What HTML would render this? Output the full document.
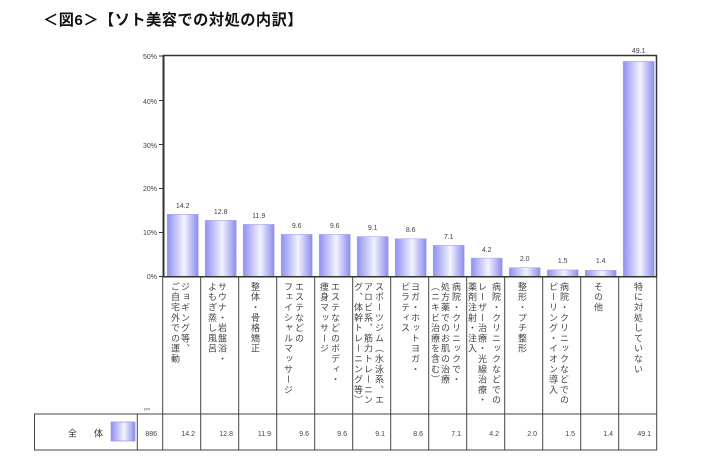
<!DOCTYPE html>
<html><head><meta charset="utf-8">
<style>
html,body{margin:0;padding:0;background:#fff;}
body{width:711px;height:468px;position:relative;overflow:hidden;font-family:"Liberation Sans","Noto Sans CJK JP",sans-serif;}
.title{position:absolute;left:43px;top:11px;font-family:"Liberation Sans","Noto Sans CJK JP",sans-serif;font-weight:bold;font-size:15.2px;letter-spacing:0.5px;color:#111;white-space:nowrap;line-height:20px;}
.v{position:absolute;top:282px;writing-mode:vertical-rl;font-family:"Noto Sans CJK JP",sans-serif;font-size:9px;letter-spacing:1.3px;color:#444;line-height:10px;width:10px;white-space:nowrap;}
svg{position:absolute;left:0;top:0;}
</style></head><body>
<div class="title">＜図6＞【ソト美容での対処の内訳】</div>
<svg width="711" height="468" viewBox="0 0 711 468">
<defs>
<linearGradient id="g" x1="0" y1="0" x2="1" y2="0">
<stop offset="0" stop-color="#9090f2"/>
<stop offset="0.55" stop-color="#f2f2ff"/>
<stop offset="1" stop-color="#8c8cee"/>
</linearGradient>
</defs>
<g font-family="Liberation Sans, sans-serif" font-size="7" fill="#444" text-anchor="end">
<text x="157" y="59">50%</text>
<text x="157" y="104">40%</text>
<text x="157" y="148">30%</text>
<text x="157" y="191">20%</text>
<text x="157" y="235">10%</text>
<text x="157" y="279">0%</text>
</g>
<g stroke="#333" stroke-width="1">
<line x1="159" y1="56" x2="163" y2="56"/>
<line x1="159" y1="100.5" x2="163" y2="100.5"/>
<line x1="159" y1="144.5" x2="163" y2="144.5"/>
<line x1="159" y1="188.5" x2="163" y2="188.5"/>
<line x1="159" y1="232.5" x2="163" y2="232.5"/>
<line x1="159" y1="276.5" x2="163" y2="276.5"/>
</g>
<g fill="url(#g)" stroke="#a6a6ec" stroke-width="0.6">
<rect x="167.2" y="214.3" width="31" height="62.2"/>
<rect x="205.2" y="220.4" width="31" height="56.1"/>
<rect x="243.2" y="224.4" width="31" height="52.1"/>
<rect x="281.2" y="234.4" width="31" height="42.1"/>
<rect x="319.2" y="234.4" width="31" height="42.1"/>
<rect x="357.2" y="236.6" width="31" height="39.9"/>
<rect x="395.2" y="238.8" width="31" height="37.7"/>
<rect x="433.2" y="245.4" width="31" height="31.1"/>
<rect x="471.2" y="258.1" width="31" height="18.4"/>
<rect x="509.2" y="267.7" width="31" height="8.8"/>
<rect x="547.2" y="269.9" width="31" height="6.6"/>
<rect x="585.2" y="270.4" width="31" height="6.1"/>
<rect x="623.2" y="61.4" width="31" height="215.1"/>
</g>
<g font-family="Liberation Sans, sans-serif" font-size="7" fill="#444" text-anchor="middle">
<text x="182.7" y="208">14.2</text>
<text x="220.7" y="214">12.8</text>
<text x="258.7" y="218">11.9</text>
<text x="296.7" y="228">9.6</text>
<text x="334.7" y="228">9.6</text>
<text x="372.7" y="230">9.1</text>
<text x="410.7" y="232">8.6</text>
<text x="448.7" y="239">7.1</text>
<text x="486.7" y="252">4.2</text>
<text x="524.7" y="261">2.0</text>
<text x="562.7" y="263">1.5</text>
<text x="600.7" y="263">1.4</text>
<text x="638.7" y="53">49.1</text>
</g>
<g stroke="#333" fill="none">
<line x1="163.5" y1="55" x2="163.5" y2="277" stroke-width="2"/>
<line x1="162.7" y1="55.5" x2="657" y2="55.5" stroke-width="1.5"/>
<line x1="656.5" y1="55" x2="656.5" y2="277" stroke-width="1.5"/>
<line x1="162.7" y1="276.8" x2="657" y2="276.8" stroke-width="1.5"/>
</g>
<g stroke="#444" stroke-width="1">
<line x1="162.7" y1="277" x2="162.7" y2="450.5"/>
<line x1="200.7" y1="277" x2="200.7" y2="450.5"/>
<line x1="238.7" y1="277" x2="238.7" y2="450.5"/>
<line x1="276.7" y1="277" x2="276.7" y2="450.5"/>
<line x1="314.7" y1="277" x2="314.7" y2="450.5"/>
<line x1="352.7" y1="277" x2="352.7" y2="450.5"/>
<line x1="390.7" y1="277" x2="390.7" y2="450.5"/>
<line x1="428.7" y1="277" x2="428.7" y2="450.5"/>
<line x1="466.7" y1="277" x2="466.7" y2="450.5"/>
<line x1="504.7" y1="277" x2="504.7" y2="450.5"/>
<line x1="542.7" y1="277" x2="542.7" y2="450.5"/>
<line x1="580.7" y1="277" x2="580.7" y2="450.5"/>
<line x1="618.7" y1="277" x2="618.7" y2="450.5"/>
<line x1="656.7" y1="277" x2="656.7" y2="450.5"/>
<line x1="34" y1="414" x2="657" y2="414"/>
<line x1="34" y1="450" x2="657" y2="450"/>
<line x1="34.5" y1="414" x2="34.5" y2="450.5"/>
<line x1="137.3" y1="414" x2="137.3" y2="450.5"/>
</g>
<rect x="111" y="422" width="24" height="19" fill="url(#g)" stroke="#9c9cd8" stroke-width="0.8"/>
<g font-family="Noto Sans CJK JP, sans-serif" font-size="9" fill="#333">
<text x="68" y="436.5">全</text>
<text x="94" y="436.5">体</text>
</g>
<text x="144" y="411" font-family="Liberation Sans, sans-serif" font-size="5.5" fill="#666" font-style="italic">n=</text>
<g font-family="Liberation Sans, sans-serif" font-size="7" fill="#444" text-anchor="end">
<text x="157" y="436">886</text>
<text x="195" y="436">14.2</text>
<text x="233" y="436">12.8</text>
<text x="271" y="436">11.9</text>
<text x="309" y="436">9.6</text>
<text x="347" y="436">9.6</text>
<text x="385" y="436">9.1</text>
<text x="423" y="436">8.6</text>
<text x="461" y="436">7.1</text>
<text x="499" y="436">4.2</text>
<text x="537" y="436">2.0</text>
<text x="575" y="436">1.5</text>
<text x="613" y="436">1.4</text>
<text x="651" y="436">49.1</text>
</g>
</svg>
<div class="v" style="left:180px">ジョギング等、</div>
<div class="v" style="left:170px">ご自宅外での運動</div>
<div class="v" style="left:217px">サウナ・岩盤浴・</div>
<div class="v" style="left:207px">よもぎ蒸し風呂</div>
<div class="v" style="left:250px">整体・骨格矯正</div>
<div class="v" style="left:294px">エステなどの</div>
<div class="v" style="left:283px">フェイシャルマッサージ</div>
<div class="v" style="left:330px">エステなどのボディ・</div>
<div class="v" style="left:319px">痩身マッサージ</div>
<div class="v" style="left:374px">スポーツジム（水泳系、エ</div>
<div class="v" style="left:363px">アロビ系、筋力トレーニン</div>
<div class="v" style="left:353px">グ、体幹トレーニング等）</div>
<div class="v" style="left:410px">ヨガ・ホットヨガ・</div>
<div class="v" style="left:400px">ピラティス</div>
<div class="v" style="left:451px">病院・クリニックで・</div>
<div class="v" style="left:440px">処方薬でのお肌の治療</div>
<div class="v" style="left:430px">（ニキビ治療を含む）</div>
<div class="v" style="left:491px">病院・クリニックなどでの</div>
<div class="v" style="left:477px">レーザー治療・光線治療・</div>
<div class="v" style="left:467px">薬剤注射・注入</div>
<div class="v" style="left:517px">整形・プチ整形</div>
<div class="v" style="left:559px">病院・クリニックなどでの</div>
<div class="v" style="left:548px">ピーリング・イオン導入</div>
<div class="v" style="left:593px">その他</div>
<div class="v" style="left:633px">特に対処していない</div>
</body></html>
